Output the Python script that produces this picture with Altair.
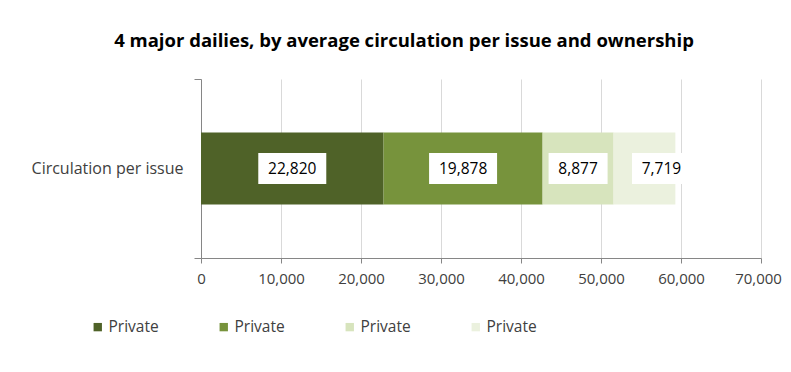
import altair as alt
import pandas as pd

# ---- data ----
category = "Circulation per issue"
series_ids = ["Daily A", "Daily B", "Daily C", "Daily D"]
owners = ["Private", "Private", "Private", "Private"]
values = [22820, 19878, 8877, 7719]
colors = ["#4f6228", "#77933c", "#d7e4bd", "#ebf1de"]
x_ticks = [0, 10000, 20000, 30000, 40000, 50000, 60000, 70000]
title_text = "4 major dailies, by average circulation per issue and ownership"

FONT = "Open Sans"
FS = 15.5
df = pd.DataFrame({
    "cat": [category] * len(values),
    "sid": series_ids,
    "owner": owners,
    "value": values,
    "idx": list(range(len(values))),
})

base = alt.Chart(df).transform_window(
    cum="sum(value)", sort=[alt.SortField("idx")], frame=[None, 0]
).transform_calculate(
    start="datum.cum - datum.value",
    mid="datum.cum - datum.value / 2",
    label="format(datum.value, ',')",
)

y_enc = alt.Y(
    "cat:N",
    title=None,
    scale=alt.Scale(paddingInner=0, paddingOuter=0),
    axis=alt.Axis(
        tickBand="extent", tickSize=7, tickColor="#868686", domainColor="#868686",
        labelFont=FONT, labelFontSize=16, labelColor="#404040", labelPadding=11,
        grid=False,
    ),
)

x_scale = alt.Scale(domain=[0, 70000], nice=False)
x_axis = alt.Axis(
    values=x_ticks, labelExpr="format(datum.value, ',')", tickSize=5,
    tickColor="#868686", domainColor="#868686", gridColor="#d9d9d9", grid=True,
    labelFont=FONT, labelFontSize=15, labelColor="#404040", labelPadding=8,
    labelFlush=False, labelOverlap=False, labelBound=False,
    labelOffset={"condition": {"test": "datum.value === 70000", "value": -3}, "value": 0},
)

def xq(field):
    return alt.X(field, type="quantitative", title=None, scale=x_scale, axis=x_axis)

bars = base.mark_bar(size=72).encode(
    x=xq("start"),
    x2="cum:Q",
    y=y_enc,
    color=alt.Color(
        "sid:N",
        scale=alt.Scale(domain=series_ids, range=colors),
        legend=alt.Legend(
            title=None, orient="none", direction="horizontal",
            legendX=-111, legendY=240, columnPadding=57,
            symbolType="square", symbolSize=70, symbolStrokeWidth=0,
            labelExpr="'Private'", labelFont=FONT, labelFontSize=FS,
            labelColor="#404040", labelOffset=3,
        ),
    ),
)

path_wide = "M-1,-0.456H1V0.456H-1Z"
path_narrow = "M-1,-0.525H1V0.525H-1Z"
long_label = "length(datum.label) > 5"

def label_layers(flt, offset):
    boxes = base.transform_filter(flt).mark_point(
        filled=True, color="white", opacity=1, strokeWidth=0, xOffset=offset
    ).encode(
        x=xq("mid"),
        y="cat:N",
        shape=alt.condition(long_label, alt.value(path_wide), alt.value(path_narrow)),
        size=alt.condition(long_label, alt.value(68 * 68), alt.value(59 * 59)),
    )
    texts = base.transform_filter(flt).mark_text(
        font=FONT, fontSize=FS, color="#000000", dx=offset, baseline="middle"
    ).encode(x=xq("mid"), y="cat:N", text="label:N")
    return boxes, texts

b1, t1 = label_layers("datum.idx < 3", 0)
b2, t2 = label_layers("datum.idx == 3", 17)

chart = alt.layer(bars, b1, t1, b2, t2).properties(
    width=560,
    height=179,
    padding={"left": 193, "top": 71, "right": 22, "bottom": 106},
    autosize=alt.AutoSizeParams(type="none"),
    background="white",
    title=alt.TitleParams(
        text=title_text, font=FONT, fontSize=18.5, fontWeight="bold", color="#000000",
        anchor="middle", dx=-77, offset=21,
    ),
).configure_view(stroke=None)

chart.save("out.html", embed_options={"renderer": "svg", "actions": False})
